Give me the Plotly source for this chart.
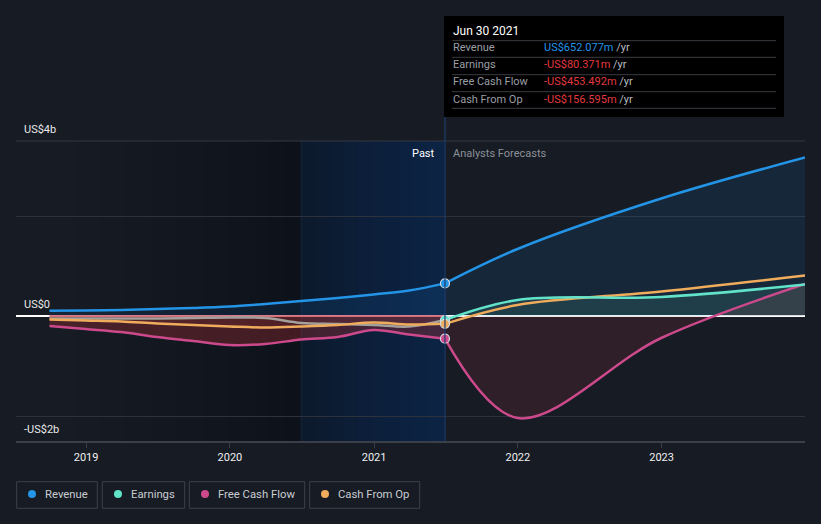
import plotly.graph_objects as go

# ---------------- data (US$ billions) ----------------
past_dates = ["2018-09-30", "2018-12-31", "2019-03-31", "2019-06-30", "2019-09-30", "2019-12-31",
              "2020-03-31", "2020-06-30", "2020-09-30", "2020-12-31", "2021-03-31", "2021-06-30"]
fc_dates = ["2021-06-30", "2021-12-31", "2022-12-31", "2023-12-31"]

revenue_past = [0.107, 0.11, 0.12, 0.14, 0.16, 0.19, 0.24, 0.30, 0.36, 0.43, 0.51, 0.652077]
earnings_past = [-0.05, -0.05, -0.05, -0.05, -0.04, -0.03, -0.04, -0.14, -0.16, -0.18, -0.21, -0.080371]
fcf_past = [-0.20, -0.26, -0.32, -0.42, -0.50, -0.58, -0.56, -0.47, -0.42, -0.28, -0.37, -0.453492]
cfo_past = [-0.07, -0.09, -0.11, -0.15, -0.18, -0.21, -0.23, -0.21, -0.18, -0.13, -0.17, -0.156595]

revenue_fc = [0.652077, 1.34, 2.35, 3.17]
earnings_fc = [-0.080371, 0.32, 0.38, 0.63]
fcf_fc = [-0.453492, -2.04, -0.44, 0.64]
cfo_fc = [-0.156595, 0.22, 0.49, 0.81]

year_ticks = ["2019-01-01", "2020-01-01", "2021-01-01", "2022-01-01", "2023-01-01"]
year_labels = ["2019", "2020", "2021", "2022", "2023"]
y_labels = ["US$4b", "US$0", "-US$2b"]

tooltip_date = "Jun 30 2021"
tooltip_rows = ["Revenue", "Earnings", "Free Cash Flow", "Cash From Op"]
tooltip_vals = ["US$652.077m", "-US$80.371m", "-US$453.492m", "-US$156.595m"]
legend_names = ["Revenue", "Earnings", "Free Cash Flow", "Cash From Op"]

# ---------------- styling ----------------
BG = "#161b24"
C_REV = "#2394e6"
C_EARN = "#62e3c9"
C_EARN_PAST = "#a39f9b"
C_FCF = "#cc4a8c"
C_CFO = "#eeac5c"
FONT = "Roboto"

W, H = 821, 524
ML, MR, MT, MB = 16, 16, 141, 83
PW, PH = W - ML - MR, H - MT - MB


def px_x(p):
    return (p - ML) / PW


def px_y(p):
    return (H - MB - p) / PH


fig = go.Figure()

# fills first
fig.add_trace(go.Scatter(x=past_dates + fc_dates[1:], y=revenue_past + revenue_fc[1:], mode="none",
                         fill="tozeroy", fillcolor="rgba(33,150,243,0.10)", line_shape="spline",
                         hoverinfo="skip"))
fig.add_trace(go.Scatter(x=past_dates, y=fcf_past, mode="none", fill="tozeroy",
                         fillcolor="rgba(172,46,52,0.34)", line_shape="spline", hoverinfo="skip"))
fig.add_trace(go.Scatter(x=past_dates, y=cfo_past, mode="none", fill="tozeroy",
                         fillcolor="rgba(210,80,70,0.10)", line_shape="spline", hoverinfo="skip"))
fig.add_trace(go.Scatter(x=fc_dates, y=fcf_fc, mode="none", fill="tozeroy",
                         fillcolor="rgba(200,55,70,0.14)", line_shape="spline", hoverinfo="skip"))
fig.add_trace(go.Scatter(x=fc_dates, y=earnings_fc, mode="none", fill="tozeroy",
                         fillcolor="rgba(98,227,201,0.12)", line_shape="spline", hoverinfo="skip"))

# red zero line in past
fig.add_trace(go.Scatter(x=[past_dates[0], past_dates[-1]], y=[0, 0], mode="lines",
                         line=dict(color="#cf5663", width=1.5), hoverinfo="skip"))


def line(x, y, color, w=2.5):
    fig.add_trace(go.Scatter(x=x, y=y, mode="lines", line=dict(color=color, width=w, shape="spline",
                                                               smoothing=1.0), hoverinfo="skip"))


line(past_dates, earnings_past, C_EARN_PAST)
line(past_dates, cfo_past, C_CFO)
line(past_dates, fcf_past, C_FCF)
line(past_dates, revenue_past, C_REV)
line(fc_dates, fcf_fc, C_FCF)
line(fc_dates, cfo_fc, C_CFO)
line(fc_dates, earnings_fc, C_EARN)
line(fc_dates, revenue_fc, C_REV)

# markers at last actual
for val, col in [(earnings_past[-1], C_EARN), (cfo_past[-1], C_CFO), (fcf_past[-1], C_FCF),
                 (revenue_past[-1], C_REV)]:
    fig.add_trace(go.Scatter(x=[past_dates[-1]], y=[val], mode="markers",
                             marker=dict(color=col, size=9, line=dict(color="#d5dbe3", width=1.2)),
                             hoverinfo="skip"))

shapes = []
# darkening gradient before highlighted year
dark_starts = ["2018-12-01", "2019-02-05", "2019-04-10", "2019-06-15", "2019-08-20", "2019-10-25",
               "2019-12-30", "2020-02-20", "2020-04-10", "2020-05-20"]
for d in dark_starts:
    shapes.append(dict(type="rect", xref="x", yref="paper", x0=d, x1="2020-06-30", y0=0, y1=1,
                       fillcolor="rgba(0,0,0,0.025)", line_width=0, layer="below"))
# highlighted last year
shapes.append(dict(type="rect", xref="x", yref="paper", x0="2020-06-30", x1="2021-06-30", y0=0, y1=1,
                   fillcolor="#0c192a", line_width=0, layer="below"))
blue_starts = ["2020-06-30", "2020-08-05", "2020-09-10", "2020-10-15", "2020-11-20", "2020-12-25",
               "2021-01-30", "2021-03-05", "2021-04-10", "2021-05-15"]
for d in blue_starts:
    shapes.append(dict(type="rect", xref="x", yref="paper", x0=d, x1="2021-06-30", y0=0, y1=1,
                       fillcolor="rgba(14,50,110,0.055)", line_width=0, layer="below"))
shapes.append(dict(type="line", xref="x", yref="paper", x0="2020-06-30", x1="2020-06-30", y0=0, y1=1,
                   line=dict(color="#16263b", width=1), layer="below"))
# top gridline
shapes.append(dict(type="line", xref="paper", yref="paper", x0=0, x1=1, y0=1, y1=1,
                   line=dict(color="#343944", width=1), layer="below"))
# vertical present line
shapes.append(dict(type="line", xref="x", yref="paper", x0="2021-06-30", x1="2021-06-30",
                   y0=0, y1=px_y(117), line=dict(color="#1d3f6e", width=1.2)))

# tooltip box
shapes.append(dict(type="rect", xref="paper", yref="paper", x0=px_x(444), x1=px_x(784),
                   y0=px_y(117), y1=px_y(16), fillcolor="#000000", line_width=0))
for sy in [40.7, 57.3, 74.7, 91.7, 108.3]:
    shapes.append(dict(type="line", xref="paper", yref="paper", x0=px_x(452), x1=px_x(776),
                       y0=px_y(sy), y1=px_y(sy), line=dict(color="#3a3c40", width=1)))

annotations = []
annotations.append(dict(xref="paper", yref="paper", x=px_x(451), y=px_y(31), xanchor="left",
                        yanchor="middle", text=tooltip_date, showarrow=False,
                        font=dict(family=FONT, size=12, color="#ffffff")))
val_colors = [C_REV, "#e2383f", "#e2383f", "#e2383f"]
for i, (lab, v, vc) in enumerate(zip(tooltip_rows, tooltip_vals, val_colors)):
    yy = [48, 65, 82, 99][i]
    annotations.append(dict(xref="paper", yref="paper", x=px_x(450.5), y=px_y(yy), xanchor="left",
                            yanchor="middle", text=lab, showarrow=False,
                            font=dict(family=FONT, size=11, color="#9a9ea5")))
    annotations.append(dict(xref="paper", yref="paper", x=px_x(542), y=px_y(yy), xanchor="left",
                            yanchor="middle",
                            text=f"<span style='color:{vc}'>{v}</span> /yr", showarrow=False,
                            font=dict(family=FONT, size=11, color="#b8bbc0")))

# Past / forecast labels
annotations.append(dict(xref="paper", yref="paper", x=px_x(437), y=px_y(153), xanchor="right",
                        yanchor="middle", text="Past", showarrow=False,
                        font=dict(family=FONT, size=11, color="#ffffff")))
annotations.append(dict(xref="paper", yref="paper", x=px_x(451), y=px_y(153), xanchor="left",
                        yanchor="middle", text="Analysts Forecasts", showarrow=False,
                        font=dict(family=FONT, size=11, color="#8c9097")))

# y labels
for lab, yy in zip(y_labels, [129, 304, 429]):
    annotations.append(dict(xref="paper", yref="paper", x=px_x(22), y=px_y(yy), xanchor="left",
                            yanchor="middle", text=lab, showarrow=False,
                            font=dict(family=FONT, size=11, color="#e8e8e8")))

# legend boxes
boxes = [(16.7, 97.3), (102.3, 184.7), (189.3, 304.7), (309.7, 419.7)]
dots = [32, 118, 205, 325]
texts_x = [43, 129, 216, 336]
leg_cols = [C_REV, C_EARN, C_FCF, C_CFO]
for (bx0, bx1), dx, tx, name, col in zip(boxes, dots, texts_x, legend_names, leg_cols):
    shapes.append(dict(type="rect", xref="paper", yref="paper", x0=px_x(bx0), x1=px_x(bx1),
                       y0=px_y(508.3), y1=px_y(481.7), line=dict(color="#3d424c", width=1),
                       fillcolor=BG))
    shapes.append(dict(type="circle", xref="paper", yref="paper", x0=px_x(dx - 4), x1=px_x(dx + 4),
                       y0=px_y(498), y1=px_y(490), fillcolor=col, line_width=0))
    annotations.append(dict(xref="paper", yref="paper", x=px_x(tx), y=px_y(494.5), xanchor="left",
                            yanchor="middle", text=name, showarrow=False,
                            font=dict(family=FONT, size=11.3, color="#c9ccd1")))

fig.update_layout(
    width=W, height=H,
    margin=dict(l=ML, r=MR, t=MT, b=MB, pad=0),
    paper_bgcolor=BG, plot_bgcolor=BG,
    showlegend=False,
    shapes=shapes, annotations=annotations,
    xaxis=dict(type="date", range=["2018-07-07", "2023-12-31"], tickvals=year_ticks, ticktext=year_labels,
               ticks="outside", ticklen=5, tickcolor="#3a3f4a", showline=True, linecolor="#3a3f4a",
               linewidth=1.5, showgrid=False, zeroline=False,
               tickfont=dict(family=FONT, size=11, color="#f0f0f0"), fixedrange=True),
    yaxis=dict(range=[-2.5, 3.5], tickvals=[-2, 0, 2], showticklabels=False, gridcolor="#2c313b",
               gridwidth=1, zeroline=True, zerolinecolor="#ffffff", zerolinewidth=1.5,
               fixedrange=True),
)

fig.write_html("out.html")
